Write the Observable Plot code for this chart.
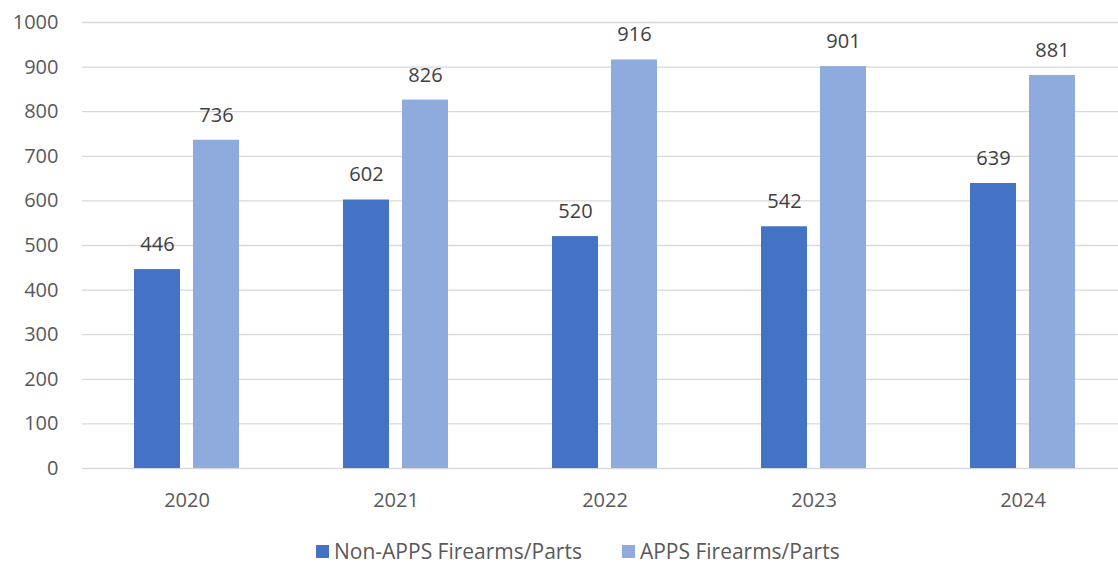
<!DOCTYPE html>
<html><head><meta charset="utf-8">
<script src="https://cdn.jsdelivr.net/npm/d3@7"></script>
<script src="https://cdn.jsdelivr.net/npm/@observablehq/plot@0.6"></script>
<style>
body{margin:0;background:#fff;overflow:hidden;font-family:"Open Sans",sans-serif;}
#chart svg{display:block;}
#legend{display:flex;justify-content:flex-start;align-items:center;gap:40px;width:1118px;box-sizing:border-box;padding-left:316px;margin-top:17px;font-size:21px;line-height:28px;color:#595959;}
#legend .sw{display:inline-block;width:13px;height:13px;margin-right:5px;}
#legend span.item{display:flex;align-items:center;white-space:nowrap;}
</style>
</head><body>
<div id="chart"></div>
<div id="legend"></div>
<script>
const years = ["2020","2021","2022","2023","2024"];
const seriesNames = ["Non-APPS Firearms/Parts","APPS Firearms/Parts"];
const nonApps = [446,602,520,542,639];
const apps = [736,826,916,901,881];
const colors = ["#4472C4","#8FAADC"];
const yTicks = [0,100,200,300,400,500,600,700,800,900,1000];

const rows = [];
years.forEach((y,i)=>{
  rows.push({year:y, series:seriesNames[0], value:nonApps[i]});
  rows.push({year:y, series:seriesNames[1], value:apps[i]});
});

const chart = Plot.plot({
  width:1128, height:520,
  marginLeft:80, marginRight:0, marginTop:22, marginBottom:52,
  style:{fontSize:"20px", fontFamily:"'Open Sans',sans-serif", color:"#595959", background:"#fff", maxWidth:"none"},
  fx:{domain:years, padding:0, tickSize:0, tickPadding:24, label:null},
  x:{domain:seriesNames, paddingInner:0.22, paddingOuter:0.87, axis:null},
  y:{domain:[0,1000], ticks:yTicks, tickFormat:d=>String(d), tickSize:0, tickPadding:24, label:null},
  color:{domain:seriesNames, range:colors},
  marks:[
    Plot.ruleY(yTicks,{stroke:"#D9D9D9", strokeWidth:1.3}),
    Plot.barY(rows,{fx:"year", x:"series", y:"value", fill:"series"}),
    Plot.text(rows,{fx:"year", x:"series", y:"value", text:d=>String(d.value), dy:-25, fill:"#404040", fontSize:20})
  ]
});
document.getElementById("chart").appendChild(chart);

const lg = d3.select("#legend");
seriesNames.forEach((s,i)=>{
  const it = lg.append("span").attr("class","item");
  it.append("span").attr("class","sw").style("background",colors[i]);
  it.append("span").text(s);
});
</script>
</body></html>
